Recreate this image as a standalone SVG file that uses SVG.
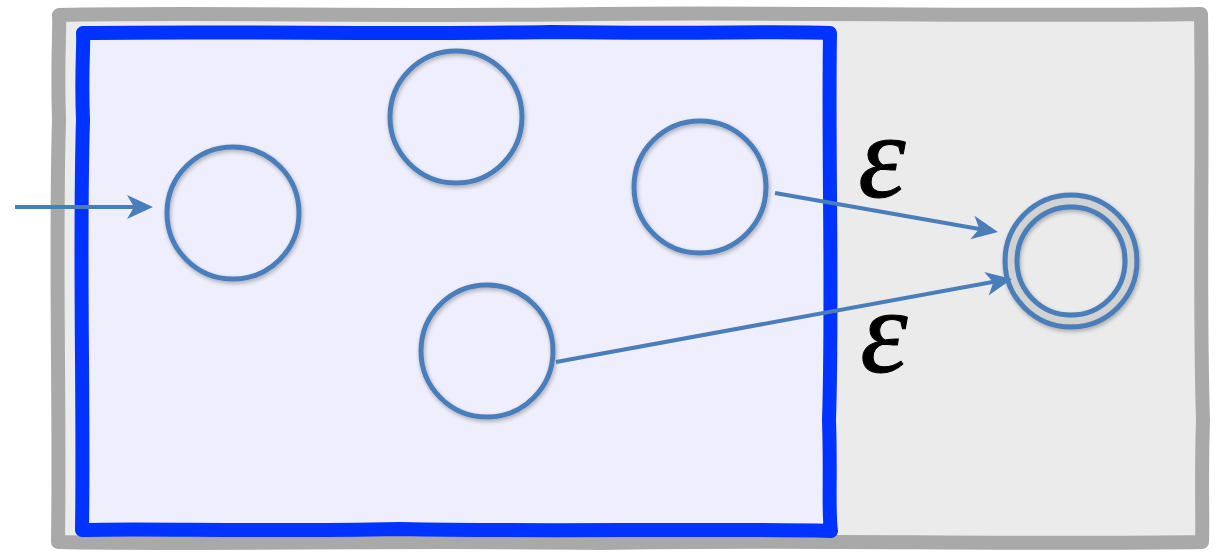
<svg xmlns="http://www.w3.org/2000/svg" width="1216" height="554" viewBox="0 0 1216 554">
<defs>
<style>
.state{fill:none;stroke:#4a7ebb;stroke-width:5}
.edge{fill:none;stroke:#4a7ebb;stroke-width:4}
.head{fill:#4a7ebb}
.lbl{font-family:"Liberation Serif","DejaVu Serif",serif;font-size:120px;font-style:italic;fill:#000;stroke:#000;stroke-width:1}
</style>
<filter id="sh" x="-20%" y="-20%" width="140%" height="140%">
<feGaussianBlur in="SourceAlpha" stdDeviation="2"/>
<feOffset dx="1" dy="2" result="b"/>
<feComponentTransfer><feFuncA type="linear" slope="0.3"/></feComponentTransfer>
<feMerge><feMergeNode/><feMergeNode in="SourceGraphic"/></feMerge>
</filter>
<path id="ah" d="M-26,-12 L0,0 L-26,12 L-19,0 Z"/>
</defs>
<g id="outer">
<path d="M59,15 C200,12 400,17 600,14 C800,12 1000,17 1201,14 C1203,150 1199,300 1203,420 C1201,480 1203,520 1202,542 C1000,545 800,539 600,543 C400,540 200,545 58,542 C60,400 55,250 59,120 C57,60 60,30 59,15 Z" fill="#ebebeb" stroke="#a9a9a9" stroke-width="14" stroke-linejoin="round"/>
</g>
<g id="blue-region">
<path d="M83,33 C250,31 400,35 550,32 C700,34 780,31 830,33 C828,150 833,300 829,420 C831,480 828,510 831,531 C700,528 550,532 400,529 C250,532 150,528 82,530 C84,400 79,250 83,120 C81,70 84,45 83,33 Z" fill="#eeeefc" stroke="#0033ff" stroke-width="14" stroke-linejoin="round"/>
</g>
<g id="q0"><circle class="state" cx="233" cy="213" r="66" filter="url(#sh)"/></g>
<g id="q1"><circle class="state" cx="456" cy="117" r="66" filter="url(#sh)"/></g>
<g id="q2"><circle class="state" cx="700" cy="187" r="66" filter="url(#sh)"/></g>
<g id="q3"><circle class="state" cx="487" cy="351" r="66" filter="url(#sh)"/></g>
<g id="qf" filter="url(#sh)">
<circle cx="1071" cy="261" r="60" fill="none" stroke="#d2d2d2" stroke-width="6"/>
<circle class="state" cx="1071" cy="261" r="66"/>
<circle class="state" cx="1071" cy="261" r="54"/>
</g>
<g id="connectors">
<line class="edge" x1="15" y1="207" x2="140" y2="207"/>
<use href="#ah" class="head" transform="translate(153,207)"/>
<line class="edge" x1="775" y1="193" x2="985" y2="230"/>
<use href="#ah" class="head" transform="translate(998,232) rotate(10)"/>
<line class="edge" x1="556" y1="362" x2="998" y2="281"/>
<use href="#ah" class="head" transform="translate(1012,279) rotate(-10.4)"/>
<text class="lbl" x="882" y="197" text-anchor="middle">ε</text>
<text class="lbl" x="884" y="372" text-anchor="middle">ε</text>
</g>
</svg>
